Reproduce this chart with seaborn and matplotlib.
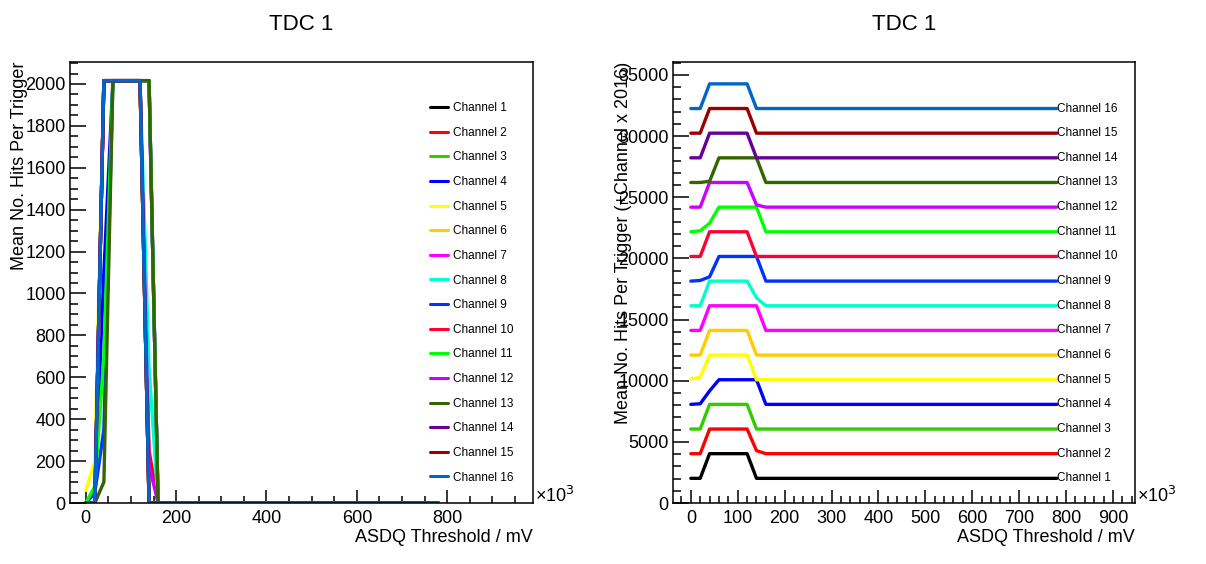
import pandas as pd
import matplotlib.pyplot as plt
import matplotlib.ticker as mticker
import seaborn as sns

# --- Data: ASDQ threshold scan, TDC 1 ---
THRESHOLDS = list(range(0, 781, 20))   # mV (axis shown as x10^3)
OFFSET = 2016                          # channel offset used on the right panel

# hits per trigger at 0,20,...,160 mV; everything above is flat at zero
HEAD = {
    'Channel 1':  [0, 0, 2016, 2016, 2016, 2016, 2016, 0, 0],
    'Channel 2':  [0, 0, 2016, 2016, 2016, 2016, 2016, 250, 0],
    'Channel 3':  [0, 0, 2016, 2016, 2016, 2016, 2016, 0, 0],
    'Channel 4':  [0, 50, 1100, 2016, 2016, 2016, 2016, 2016, 0],
    'Channel 5':  [60, 200, 2016, 2016, 2016, 2016, 2016, 0, 0],
    'Channel 6':  [0, 0, 2016, 2016, 2016, 2016, 2016, 0, 0],
    'Channel 7':  [0, 0, 2016, 2016, 2016, 2016, 2016, 2016, 0],
    'Channel 8':  [0, 0, 2016, 2016, 2016, 2016, 2016, 650, 0],
    'Channel 9':  [0, 50, 350, 2016, 2016, 2016, 2016, 2016, 0],
    'Channel 10': [0, 0, 2016, 2016, 2016, 2016, 2016, 0, 0],
    'Channel 11': [0, 80, 700, 2016, 2016, 2016, 2016, 2016, 0],
    'Channel 12': [0, 0, 2016, 2016, 2016, 2016, 2016, 180, 0],
    'Channel 13': [0, 0, 100, 2016, 2016, 2016, 2016, 2016, 0],
    'Channel 14': [0, 0, 2016, 2016, 2016, 2016, 2016, 0, 0],
    'Channel 15': [0, 0, 2016, 2016, 2016, 2016, 2016, 0, 0],
    'Channel 16': [0, 0, 2016, 2016, 2016, 2016, 2016, 0, 0],
}
TAIL = [0] * (len(THRESHOLDS) - 9)

CHANNELS = list(HEAD.keys())
COLORS = ['#000000', '#ff0000', '#33cc00', '#0000ff', '#ffff00', '#ffcc00',
          '#ff00ff', '#00ffcc', '#0033ff', '#ff0033', '#00ff00', '#cc00ff',
          '#336600', '#660099', '#990000', '#0066cc']
palette = dict(zip(CHANNELS, COLORS))

rows = []
for i, ch in enumerate(CHANNELS):
    for x, v in zip(THRESHOLDS, HEAD[ch] + TAIL):
        rows.append({'channel': ch, 'threshold': x, 'hits': v,
                     'offset_hits': v + (i + 1) * OFFSET})
df = pd.DataFrame(rows)

# --- Style ---
sns.set_theme(style='ticks')
plt.rcParams['font.family'] = ['Liberation Sans', 'DejaVu Sans']
plt.rcParams['axes.linewidth'] = 1.1
plt.rcParams['text.color'] = 'black'
plt.rcParams['axes.labelcolor'] = 'black'

W, H = 1206, 564
fig = plt.figure(figsize=(W / 100, H / 100), dpi=100)
ax1 = fig.add_axes([70 / W, (H - 503) / H, 463 / W, 441 / H])
ax2 = fig.add_axes([673 / W, (H - 503) / H, 462 / W, 441 / H])


def root_axes(ax, xmaj, xmin, ymaj, ymin):
    ax.xaxis.set_major_locator(mticker.MultipleLocator(xmaj))
    ax.xaxis.set_minor_locator(mticker.MultipleLocator(xmin))
    ax.yaxis.set_major_locator(mticker.MultipleLocator(ymaj))
    ax.yaxis.set_minor_locator(mticker.MultipleLocator(ymin))
    ax.tick_params(axis='both', which='both', direction='in', width=1.1,
                   colors='black', labelsize=13, top=False, right=False)
    ax.tick_params(axis='y', which='major', length=11.5, pad=3)
    ax.tick_params(axis='y', which='minor', length=5.8)
    ax.tick_params(axis='x', which='major', length=9.4, pad=5)
    ax.tick_params(axis='x', which='minor', length=4.7)
    for s in ax.spines.values():
        s.set_color('black')
    ax.set_title('TDC 1', fontsize=16, pad=23, color='black')
    ax.text(1.005, 0.015, r'×10$^{3}$', transform=ax.transAxes,
            fontsize=13, ha='left', va='center')


# --- Left: raw hits ---
sns.lineplot(data=df, x='threshold', y='hits', hue='channel',
             hue_order=CHANNELS, palette=palette, estimator=None,
             linewidth=2.4, ax=ax1)
ax1.set_xlim(-35, 990)
ax1.set_ylim(0, 2105)
root_axes(ax1, 200, 50, 200, 50)
handles, labels = ax1.get_legend_handles_labels()
leg = ax1.legend(handles, labels, loc='upper left',
                 bbox_to_anchor=(0.778, 0.909), frameon=False, fontsize=8.5,
                 handlelength=1.5, handletextpad=0.45, labelspacing=1.07,
                 borderpad=0, borderaxespad=0)
for h in leg.get_lines():
    h.set_linewidth(2.2)
ax1.set_xlabel('ASDQ Threshold / mV', fontsize=13, loc='right')
ax1.set_ylabel('Mean No. Hits Per Trigger', fontsize=13, loc='top')
ax1.xaxis.set_label_coords(1.0, -0.058)
ax1.yaxis.set_label_coords(-0.091, 1.0)

# --- Right: offset by channel ---
sns.lineplot(data=df, x='threshold', y='offset_hits', hue='channel',
             hue_order=CHANNELS, palette=palette, estimator=None,
             linewidth=2.4, legend=False, ax=ax2)
ax2.set_xlim(-38, 947)
ax2.set_ylim(0, 36060)
root_axes(ax2, 100, 20, 5000, 1000)
last = df[df['threshold'] == THRESHOLDS[-1]]
for _, r in last.iterrows():
    ax2.text(r['threshold'], r['offset_hits'], r['channel'], fontsize=8.5,
             ha='left', va='center')
ax2.set_xlabel('ASDQ Threshold / mV', fontsize=13, loc='right')
ax2.set_ylabel('Mean No. Hits Per Trigger (+Channel x 2016)', fontsize=13,
               loc='top')
ax2.xaxis.set_label_coords(1.0, -0.058)
ax2.yaxis.set_label_coords(-0.089, 1.0)

fig.savefig('out.png', dpi=100)
